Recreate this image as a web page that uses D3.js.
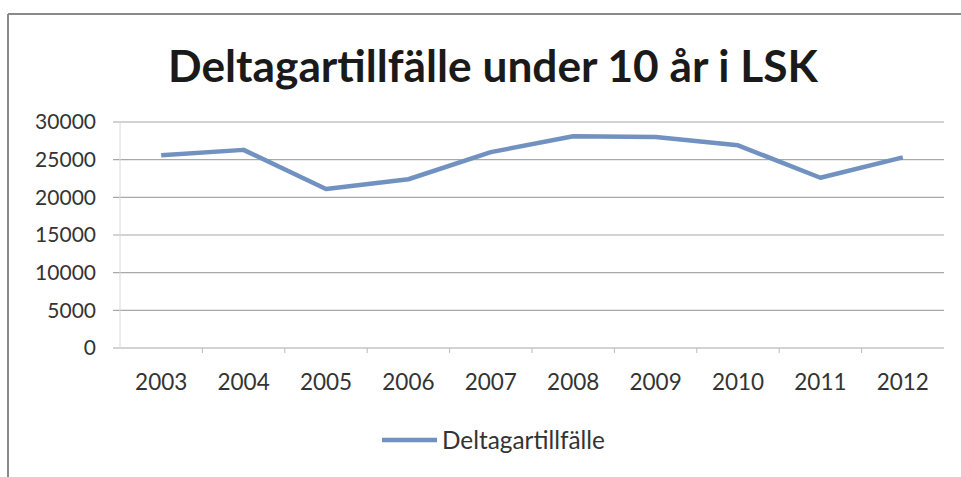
<!DOCTYPE html>
<html><head><meta charset="utf-8">
<script src="https://cdn.jsdelivr.net/npm/d3@7"></script>
<style>body{margin:0;background:#fff;} svg{display:block;}</style>
</head><body><svg id="c" width="961" height="477"></svg>
<script>
const years = ["2003","2004","2005","2006","2007","2008","2009","2010","2011","2012"];
const values = [25600, 26300, 21100, 22400, 26000, 28100, 28000, 26900, 22600, 25300];
const yTicks = [0, 5000, 10000, 15000, 20000, 25000, 30000];
const seriesName = "Deltagartillfälle";
const title = "Deltagartillfälle under 10 år i LSK";

const svg = d3.select("#c");
const font = "Lato, 'Open Sans', sans-serif";
const pLeft = 120, pRight = 944, pTop = 122, pBottom = 348;

// frame (top & left edges visible in scan)
svg.append("line").attr("x1",8).attr("x2",961).attr("y1",14).attr("y2",14).attr("stroke","#8a8a8a").attr("stroke-width",2);
svg.append("line").attr("x1",8).attr("x2",8).attr("y1",14).attr("y2",477).attr("stroke","#8a8a8a").attr("stroke-width",2);

const x = d3.scaleBand().domain(years).range([pLeft,pRight]);
const y = d3.scaleLinear().domain([0,30000]).range([pBottom,pTop]);

// gridlines
svg.append("g").selectAll("line").data(yTicks).join("line")
  .attr("x1",113).attr("x2",pRight).attr("y1",d=>y(d)).attr("y2",d=>y(d))
  .attr("stroke","#a8a8a8").attr("stroke-width",1.2);
// vertical axis line
svg.append("line").attr("x1",pLeft).attr("x2",pLeft).attr("y1",pTop).attr("y2",pBottom).attr("stroke","#d8d8d8");

// y axis labels
const ya = svg.append("g").attr("transform",`translate(${pLeft},0)`)
  .call(d3.axisLeft(y).tickValues(yTicks).tickSize(0).tickPadding(24).tickFormat(d3.format("d")));
ya.select(".domain").remove();
ya.selectAll("text").attr("font-family",font).attr("font-size",21).attr("fill","#333");

// x axis
const xa = svg.append("g").attr("transform",`translate(0,${pBottom})`)
  .call(d3.axisBottom(x).tickSize(0).tickPadding(26));
xa.select(".domain").remove();
xa.selectAll("text").attr("font-family",font).attr("font-size",22.5).attr("fill","#333");
// category boundary ticks
svg.append("g").selectAll("line").data(years.slice(1)).join("line")
  .attr("x1",d=>x(d)).attr("x2",d=>x(d)).attr("y1",pBottom).attr("y2",pBottom+5).attr("stroke","#bbb");

// line
const line = d3.line().x((d,i)=>x(years[i])+x.bandwidth()/2).y(d=>y(d));
svg.append("path").datum(values).attr("d",line).attr("fill","none")
  .attr("stroke","#7192c0").attr("stroke-width",4.5).attr("stroke-linejoin","round");

// title
const t = svg.append("text").attr("x",493).attr("y",82).attr("text-anchor","middle")
  .attr("font-family",font).attr("font-weight","bold").attr("font-size",44).attr("fill","#1a1a1a").text(title);
const w = t.node().getComputedTextLength();
t.attr("font-size", 44*650/w);

// legend
svg.append("line").attr("x1",382).attr("x2",437).attr("y1",440).attr("y2",440).attr("stroke","#7192c0").attr("stroke-width",4.5);
const lt = svg.append("text").attr("x",442).attr("y",440).attr("dy","0.35em").attr("font-family",font)
  .attr("font-size",22).attr("fill","#333").text(seriesName);
lt.attr("font-size", 22*163/lt.node().getComputedTextLength());
</script></body></html>
